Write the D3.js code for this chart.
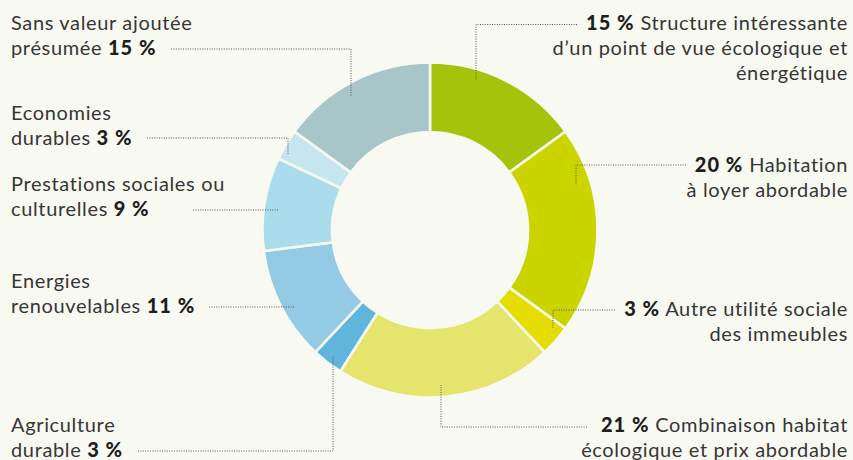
<!DOCTYPE html>
<meta charset="utf-8" />
<script src="https://d3js.org/d3.v7.min.js"></script>
<head>
<style type="text/css">
  body { margin: 0; background: #f8f9f1; }
  .lbl { font-family: Lato, "Noto Sans", sans-serif; font-size: 20px; letter-spacing: 0.65px; fill: #363636; }
  .lbl .pct { font-weight: 900; fill: #1e1e1e; letter-spacing: 1px; }
  .leader { fill: none; stroke: #555; stroke-width: 1; stroke-dasharray: 1 1.4; }
</style>
</head>
<body>
<svg id="chart" width="853" height="460"></svg>
<script>
  // data, clockwise from 12 o'clock
  const categories = [
    "Structure intéressante d’un point de vue écologique et énergétique",
    "Habitation à loyer abordable",
    "Autre utilité sociale des immeubles",
    "Combinaison habitat écologique et prix abordable",
    "Agriculture durable",
    "Energies renouvelables",
    "Prestations sociales ou culturelles",
    "Economies durables",
    "Sans valeur ajoutée présumée"
  ];
  const values = [15, 20, 3, 21, 3, 11, 9, 3, 15];
  const colors = ["#a5c30a", "#ccd400", "#e5dc00", "#e5e46d", "#5fb5dc",
                  "#93cae4", "#abdcec", "#c5e5ef", "#a8c5ca"];

  // label text broken into lines; "%" marks where the value goes
  const labelLines = [
    ["% Structure intéressante", "d’un point de vue écologique et", "énergétique"],
    ["% Habitation", "à loyer abordable"],
    ["% Autre utilité sociale", "des immeubles"],
    ["% Combinaison habitat", "écologique et prix abordable"],
    ["Agriculture", "durable %"],
    ["Energies", "renouvelables %"],
    ["Prestations sociales ou", "culturelles %"],
    ["Economies", "durables %"],
    ["Sans valeur ajoutée", "présumée %"]
  ];

  // layout of labels and leader lines
  const layout = [
    {side: "right", y: 30,  leader: [[577, 24.5], [476, 24.5], [476, 80]]},
    {side: "right", y: 172, leader: [[686, 165], [576, 165], [576, 184]]},
    {side: "right", y: 316, leader: [[615, 310], [553, 310], [553, 328]]},
    {side: "right", y: 432, leader: [[587, 427], [441, 427], [441, 385]]},
    {side: "left",  y: 432, leader: [[138, 451], [333, 451], [333, 357]]},
    {side: "left",  y: 288, leader: [[209, 307], [295, 307]]},
    {side: "left",  y: 191, leader: [[193, 210], [278, 210]]},
    {side: "left",  y: 120, leader: [[147, 138], [288, 138], [288, 155]]},
    {side: "left",  y: 30,  leader: [[171, 49], [351, 49], [351, 97]]}
  ];

  const svg = d3.select("#chart");
  const cx = 430, cy = 230, rOuter = 167.5, rInner = 98;
  const lineH = 25;

  const pie = d3.pie().sort(null).value(d => d);
  const arc = d3.arc().innerRadius(rInner).outerRadius(rOuter);

  svg.append("g")
    .attr("transform", `translate(${cx},${cy})`)
    .selectAll("path")
    .data(pie(values))
    .join("path")
    .attr("d", arc)
    .attr("fill", (d, i) => colors[i])
    .attr("stroke", "#f8f9f1")
    .attr("stroke-width", 2.6);

  // leader lines
  svg.append("g").selectAll("path")
    .data(layout)
    .join("path")
    .attr("class", "leader")
    .attr("d", d => d3.line()(d.leader));

  // labels: one text per line, value in bold
  layout.forEach((l, i) => {
    labelLines[i].forEach((line, j) => {
      const t = svg.append("text")
        .attr("class", "lbl")
        .attr("x", l.side === "right" ? 848 : 11)
        .attr("y", l.y + j * lineH)
        .attr("text-anchor", l.side === "right" ? "end" : "start");
      const parts = line.split("%");
      if (parts[0]) t.append("tspan").text(parts[0]);
      if (parts.length > 1) {
        t.append("tspan").attr("class", "pct").text(values[i] + " %");
        if (parts[1]) t.append("tspan").text(parts[1]);
      }
    });
  });
</script>
</body>
</html>
